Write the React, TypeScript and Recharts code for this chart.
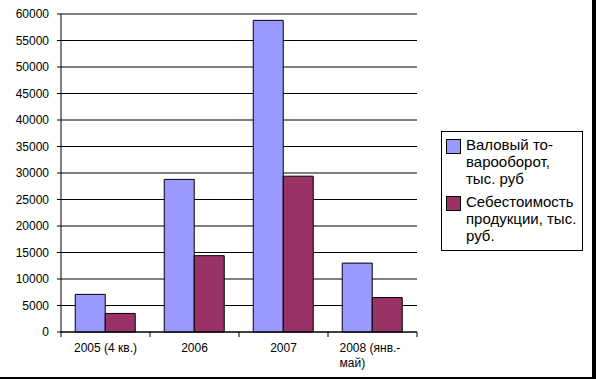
import React from "react";
import { BarChart, Bar, XAxis, YAxis, CartesianGrid, Legend } from "recharts";

const categories = ["2005 (4 кв.)", "2006", "2007", "2008 (янв.-\nмай)"];
const grossTurnover = [7100, 28800, 58800, 13000];
const productionCost = [3500, 14400, 29400, 6500];
const yTicks = [0, 5000, 10000, 15000, 20000, 25000, 30000, 35000, 40000, 45000, 50000, 55000, 60000];
const seriesNames = ["Валовый то-\nварооборот,\nтыс. руб", "Себестоимость\nпродукции, тыс.\nруб."];
const seriesColors = ["#9999FF", "#993366"];

const data = categories.map((c, i) => ({
  name: c,
  gross: grossTurnover[i],
  cost: productionCost[i],
}));

const FONT = '"Liberation Sans", Arial, sans-serif';

function CategoryTick(props: any) {
  const { x, y, payload, index, visibleTicksCount } = props;
  const half = payload.offset || 44.4;
  const lines = String(payload.value).split("\n");
  const multi = lines.length > 1;
  return (
    <g>
      <line x1={x - half} y1={y} x2={x - half} y2={y + 5} stroke="#000" />
      {index === visibleTicksCount - 1 && (
        <line x1={x + half} y1={y} x2={x + half} y2={y + 5} stroke="#000" />
      )}
      <text
        x={multi ? x - 33 : x}
        y={y + 20}
        textAnchor={multi ? "start" : "middle"}
        fontSize={12}
        fontFamily={FONT}
        fill="#000"
      >
        {lines.map((l, i) => (
          <tspan key={i} x={multi ? x - 33 : x} dy={i === 0 ? 0 : 15}>
            {l}
          </tspan>
        ))}
      </text>
    </g>
  );
}

function LegendBox(props: any) {
  const items = props.payload || [];
  return (
    <div
      style={{
        border: "1px solid #000",
        width: 136,
        padding: "4px 0 6px 4px",
        fontFamily: FONT,
        fontSize: 15,
        lineHeight: "17px",
        color: "#000",
        background: "#fff",
        boxSizing: "content-box",
      }}
    >
      {items.map((it: any, i: number) => (
        <div key={i} style={{ display: "flex", alignItems: "flex-start", marginTop: i === 0 ? 0 : 6 }}>
          <div
            style={{
              width: 13,
              height: 13,
              background: it.color,
              border: "1px solid #000",
              marginTop: 3,
              marginRight: 5,
              flexShrink: 0,
            }}
          />
          <div style={{ whiteSpace: "pre-line", textAlign: "left" }}>{it.value}</div>
        </div>
      ))}
    </div>
  );
}

export default function App() {
  return (
    <div
      style={{
        position: "absolute",
        left: 0,
        top: 0,
        width: 596,
        height: 379,
        background: "#fff",
        borderRight: "4px solid #000",
        borderBottom: "2px solid #000",
        boxSizing: "border-box",
      }}
    >
      <BarChart
        width={592}
        height={377}
        data={data}
        margin={{ top: 14, right: 175, bottom: 0, left: 0 }}
        barCategoryGap="16%"
        barGap={0}
      >
        <CartesianGrid vertical={false} stroke="#000" strokeDasharray="" />
        <XAxis
          dataKey="name"
          axisLine={{ stroke: "#000" }}
          tickLine={false}
          tickSize={0}
          tickMargin={0}
          height={45}
          interval={0}
          tick={<CategoryTick />}
        />
        <YAxis
          domain={[0, 60000]}
          ticks={yTicks}
          interval={0}
          width={61}
          axisLine={{ stroke: "#000" }}
          tickLine={{ stroke: "#000" }}
          tickSize={4}
          tickMargin={8}
          tick={{ fontSize: 12, fontFamily: FONT, fill: "#000" }}
        />
        <Legend
          layout="vertical"
          align="center"
          verticalAlign="middle"
          content={<LegendBox />}
          wrapperStyle={{ position: "absolute", left: 441, top: 131, width: 142 }}
        />
        <Bar
          dataKey="gross"
          name={seriesNames[0]}
          fill={seriesColors[0]}
          stroke="#000"
          strokeWidth={1}
          isAnimationActive={false}
        />
        <Bar
          dataKey="cost"
          name={seriesNames[1]}
          fill={seriesColors[1]}
          stroke="#000"
          strokeWidth={1}
          isAnimationActive={false}
        />
      </BarChart>
    </div>
  );
}
